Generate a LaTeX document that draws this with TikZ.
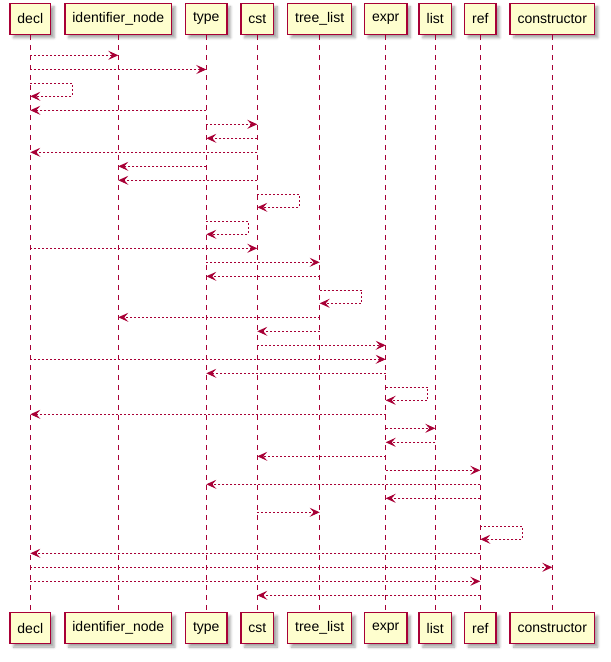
\documentclass[tikz,border=0pt]{standalone}
\usepackage{fontspec}
\setmainfont{Liberation Sans}
\usetikzlibrary{arrows.meta,shadows.blur}

\definecolor{seqline}{HTML}{A80036}
\definecolor{seqfill}{HTML}{FEFECE}

% a plain message between two lifelines at height #3
\newcommand\seqmsg[3]{\draw[msgline] (#1 |- 0,#3) -- (#2 |- 0,#3);}
% a message a participant sends to itself, starting at height #2
\newcommand\seqself[2]{\draw[msgline] (#1 |- 0,#2) -- ++(42,0) -- ++(0,13) -- (#1 |- 0,#2+13);}

\tikzset{
  participant/.style={draw=seqline, fill=seqfill, line width=1.5pt,
    inner xsep=7.5pt, inner ysep=0pt, minimum height=31pt,
    font=\fontsize{14}{16}\selectfont,
    blur shadow={shadow xshift=3.5pt, shadow yshift=-3.5pt, shadow blur radius=2.5pt, shadow opacity=35}},
  lifeline/.style={draw=seqline, line width=1pt, dash pattern=on 5pt off 5pt},
  msgline/.style={draw=seqline, line width=1pt, dash pattern=on 2pt off 2pt,
    -{Stealth[length=10pt, width=9pt, inset=4pt, fill=seqline]}},
}

\begin{document}
\begin{tikzpicture}[x=1pt, y=-1pt]
\useasboundingbox (0,0) rectangle (611,662);

% participants, top row
\foreach \nm/\lbl/\xx in {decl/decl/30.3, idn/identifier\_node/118.3, type/type/206.3,
    cst/cst/257.3, tlist/tree\_list/319.7, expr/expr/385.7, list/list/435.3,
    ref/ref/480.3, ctor/constructor/552.3}{
  \node[participant] (\nm) at (\xx,18.8) {\lbl};
  \node[participant] (\nm B) at (\xx,628) {\lbl};
  \draw[lifeline] (\nm.south) -- (\nm B.north);
}

% messages
\seqmsg{decl}{idn}{55.3}
\seqmsg{decl}{type}{69.5}
\seqself{decl}{83.3}
\seqmsg{type}{decl}{110.3}
\seqmsg{type}{cst}{124.3}
\seqmsg{cst}{type}{138.3}
\seqmsg{cst}{decl}{152.3}
\seqmsg{type}{idn}{166.3}
\seqmsg{cst}{idn}{180.3}
\seqself{cst}{194.3}
\seqself{type}{221.3}
\seqmsg{decl}{cst}{248.3}
\seqmsg{type}{tlist}{262.3}
\seqmsg{tlist}{type}{276.3}
\seqself{tlist}{290.3}
\seqmsg{tlist}{idn}{317.3}
\seqmsg{tlist}{cst}{331.3}
\seqmsg{cst}{expr}{345.3}
\seqmsg{decl}{expr}{359.3}
\seqmsg{expr}{type}{373.3}
\seqself{expr}{387.3}
\seqmsg{expr}{decl}{414.3}
\seqmsg{expr}{list}{428.3}
\seqmsg{list}{expr}{442.3}
\seqmsg{expr}{cst}{456.3}
\seqmsg{expr}{ref}{470.3}
\seqmsg{ref}{type}{484.3}
\seqmsg{ref}{expr}{498.3}
\seqmsg{cst}{tlist}{512.3}
\seqself{ref}{526.3}
\seqmsg{ref}{decl}{553.3}
\seqmsg{decl}{ctor}{567.3}
\seqmsg{decl}{ref}{581.3}
\seqmsg{ref}{cst}{595.3}
\end{tikzpicture}
\end{document}
